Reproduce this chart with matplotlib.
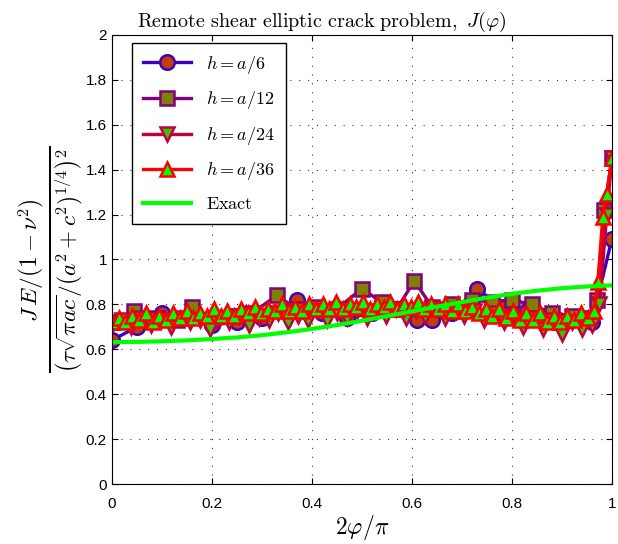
import matplotlib
matplotlib.use("Agg")
import matplotlib.pyplot as plt
import numpy as np
from matplotlib.ticker import FuncFormatter

plt.rcParams['mathtext.fontset'] = 'cm'
plt.rcParams['font.family'] = ['Liberation Sans', 'DejaVu Sans']

# h = a/6
h6_x = [0, 0.05, 0.1, 0.15, 0.2, 0.25, 0.3, 0.37, 0.42, 0.47, 0.52, 0.57, 0.61,
        0.64, 0.68, 0.73, 0.78, 0.83, 0.88, 0.92, 0.96, 1.0]
h6_y = [0.64, 0.70, 0.76, 0.74, 0.71, 0.72, 0.74, 0.82, 0.76, 0.74, 0.76, 0.78, 0.73,
        0.73, 0.76, 0.87, 0.79, 0.77, 0.74, 0.73, 0.72, 1.09]

# h = a/12
h12_x = [0, 0.045, 0.09, 0.13, 0.16, 0.2, 0.24, 0.28, 0.33, 0.37, 0.41, 0.45, 0.5, 0.54,
         0.57, 0.605, 0.64, 0.68, 0.72, 0.76, 0.8, 0.84, 0.88, 0.92, 0.95, 0.97, 0.985, 1.0]
h12_y = [0.72, 0.77, 0.74, 0.73, 0.79, 0.73, 0.75, 0.76, 0.84, 0.78, 0.79, 0.78, 0.87, 0.81,
         0.78, 0.905, 0.79, 0.80, 0.82, 0.81, 0.82, 0.80, 0.76, 0.75, 0.74, 0.82, 1.22, 1.45]

# h = a/24
h24_y = [0.71, 0.73, 0.70, 0.74, 0.71, 0.73, 0.70, 0.74, 0.72, 0.73,
         0.69, 0.74, 0.72, 0.75, 0.71, 0.74, 0.73, 0.76, 0.72, 0.75,
         0.73, 0.77, 0.73, 0.76, 0.74, 0.77, 0.74, 0.77, 0.75, 0.78,
         0.74, 0.77, 0.75, 0.78, 0.74, 0.77, 0.75, 0.77, 0.73, 0.76,
         0.72, 0.75, 0.70, 0.74, 0.69, 0.73, 0.67, 0.72, 0.69, 0.71]
h24_end_x = [0.975, 0.99, 1.0]
h24_end_y = [0.80, 1.20, 1.45]

# h = a/36
h36_y = [0.72, 0.74, 0.72, 0.75, 0.73, 0.76, 0.72, 0.75, 0.73, 0.76,
         0.74, 0.77, 0.74, 0.76, 0.75, 0.78, 0.75, 0.77, 0.75, 0.78,
         0.76, 0.79, 0.76, 0.78, 0.77, 0.80, 0.77, 0.79, 0.77, 0.80,
         0.78, 0.80, 0.78, 0.81, 0.78, 0.80, 0.79, 0.81, 0.78, 0.80,
         0.79, 0.81, 0.78, 0.80, 0.79, 0.81, 0.78, 0.80, 0.78, 0.80,
         0.77, 0.80, 0.77, 0.79, 0.76, 0.78, 0.75, 0.78, 0.74, 0.77,
         0.73, 0.76, 0.73, 0.76, 0.72, 0.75, 0.72, 0.75, 0.73, 0.76,
         0.74, 0.77]
h36_end_x = [0.972, 0.982, 0.99, 1.0]
h36_end_y = [0.90, 1.19, 1.29, 1.45]

# exact solution
exact_y = [0.632, 0.633, 0.636, 0.640, 0.646, 0.653, 0.663, 0.676, 0.691, 0.708, 0.727,
           0.748, 0.769, 0.790, 0.810, 0.830, 0.847, 0.861, 0.872, 0.880, 0.885]

h24_x = list(np.linspace(0, 0.96, len(h24_y))) + h24_end_x
h24_y = h24_y + h24_end_y
h36_x = list(np.linspace(0, 0.965, len(h36_y))) + h36_end_x
h36_y = h36_y + h36_end_y
exact_x = np.linspace(0, 1, len(exact_y))

fig = plt.figure(figsize=(6.18, 5.44), dpi=100)
ax = fig.add_axes([0.181, 0.110, 0.809, 0.826])

lw = 2.4
ms = 10.5
mew = 1.8
ax.plot(h6_x, h6_y, '-o', color='#4000c0', mfc='#c04000', mec='#4000c0',
        lw=lw, ms=ms, mew=mew, label=r'$h=a/6$')
ax.plot(h12_x, h12_y, '-s', color='#800080', mfc='#808000', mec='#800080',
        lw=lw, ms=ms - 1, mew=mew, label=r'$h=a/12$')
ax.plot(h24_x, h24_y, '-v', color='#c00040', mfc='#40c000', mec='#c00040',
        lw=lw, ms=ms, mew=mew, label=r'$h=a/24$')
ax.plot(h36_x, h36_y, '-^', color='#ff0000', mfc='#00ff00', mec='#ff0000',
        lw=lw, ms=ms, mew=mew, label=r'$h=a/36$')
ax.plot(exact_x, exact_y, '-', color='#00ff00', lw=3, label=r'$\mathrm{Exact}$')

ax.set_xlim(0, 1)
ax.set_ylim(0, 2)
ax.set_xticks(np.arange(0, 1.01, 0.2))
ax.set_yticks(np.arange(0, 2.01, 0.2))
fmt = FuncFormatter(lambda v, p: '%g' % round(v, 2))
ax.xaxis.set_major_formatter(fmt)
ax.yaxis.set_major_formatter(fmt)
ax.tick_params(direction='in', top=True, right=True, labelsize=11, length=4)
ax.tick_params(axis='x', pad=9)
ax.grid(True, linestyle=(0, (1, 7)), color='#333333', linewidth=0.8)

ax.set_title(r'$\mathrm{Remote\ shear\ elliptic\ crack\ problem,}\ J(\varphi)$',
             fontsize=14.5, x=0.42)
ax.set_xlabel(r'$2\varphi/\pi$', fontsize=17, labelpad=2)
ax.set_ylabel(r'$\frac{J\,E/(1-\nu^2)}{\left(\tau\sqrt{\pi a c}/(a^2+c^2)^{1/4}\right)^2}$',
              fontsize=24, labelpad=0)

leg = ax.legend(loc='upper left', bbox_to_anchor=(0.04, 0.982), borderaxespad=0,
                fontsize=13, handlelength=2.7, fancybox=False, edgecolor='black',
                framealpha=1, borderpad=0.6, labelspacing=0.75)
leg.get_frame().set_linewidth(1)

fig.savefig('out.png', dpi=100)
